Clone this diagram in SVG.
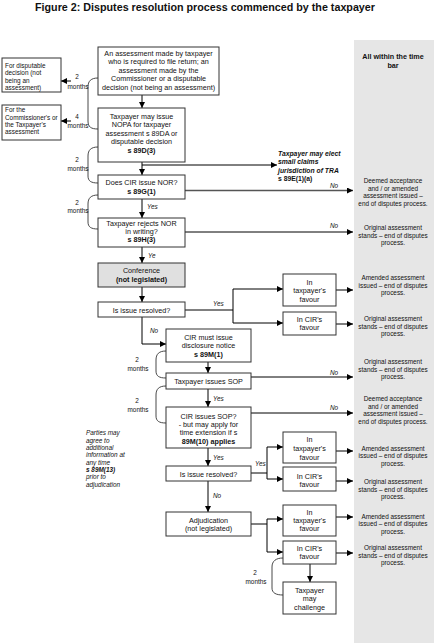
<svg xmlns="http://www.w3.org/2000/svg" width="434" height="644" viewBox="0 0 434 644">
<defs>
<marker id="ah" markerUnits="userSpaceOnUse" markerWidth="6" markerHeight="6" refX="6" refY="3" orient="auto"><path d="M0,0 L6,3 L0,6 z" fill="#000"/></marker>
<marker id="ahg" markerUnits="userSpaceOnUse" markerWidth="6" markerHeight="6" refX="6" refY="3" orient="auto"><path d="M0,0 L6,3 L0,6 z" fill="#000"/></marker>
</defs>
<style>
text{font-family:"Liberation Sans",Arial,sans-serif;fill:#111}
.b{fill:#fff;stroke:#333;stroke-width:1}
.g{fill:#e0e0e0;stroke:#333;stroke-width:1}
.t{font-size:7.2px;text-anchor:middle}
.s{font-size:6.4px;text-anchor:middle}
.l{font-size:6.4px}
.i{font-size:6.4px;font-style:italic}
.bd{font-weight:bold}
.c{fill:none;stroke:#000;stroke-width:1}
.a{fill:none;stroke:#000;stroke-width:1;marker-end:url(#ah)}
.ag{fill:none;stroke:#555;stroke-width:1.7;marker-end:url(#ahg)}
.br{fill:none;stroke:#333;stroke-width:0.9}
</style>
<rect width="434" height="644" fill="#fff"/>
<text x="205" y="10.5" font-size="11.5" font-weight="bold" text-anchor="middle" textLength="340" lengthAdjust="spacingAndGlyphs">Figure 2: Disputes resolution process commenced by the taxpayer</text>

<g id="timebar">
<rect x="354" y="40" width="80" height="603" fill="#e6e6e6"/>
<text class="t bd" x="393" y="59">All within the time</text>
<text class="t bd" x="393" y="67.5">bar</text>
</g>

<g id="connectors">
<path class="a" d="M142,95 V108"/>
<path class="a" d="M142,162 V175"/>
<path class="a" d="M142,165 H277"/>
<path class="ag" d="M185,190.5 H353"/>
<path class="a" d="M142,199 V218"/>
<path class="a" d="M185,232 H353"/>
<path class="a" d="M142,247 V263"/>
<path class="a" d="M142,287 V302"/>
<path class="c" d="M185,310 H233 M233,289 V323"/>
<path class="a" d="M233,289 H283"/>
<path class="a" d="M233,323 H283"/>
<path class="a" d="M336,290 H353"/>
<path class="a" d="M336,324 H353"/>
<path class="a" d="M142,317 V344 H166"/>
<path class="a" d="M208,362 V373"/>
<path class="a" d="M251,377 H353"/>
<path class="a" d="M208,389 V407"/>
<path class="a" d="M251,413 H353"/>
<path class="a" d="M208,448 V466"/>
<path class="c" d="M251,473 H267 M267,447 V479"/>
<path class="a" d="M267,447 H283"/>
<path class="a" d="M267,479 H283"/>
<path class="a" d="M336,451 H353"/>
<path class="a" d="M336,481 H353"/>
<path class="a" d="M208,481 V512"/>
<path class="c" d="M251,524 H267 M267,519 V552"/>
<path class="a" d="M267,519 H283"/>
<path class="a" d="M267,552 H283"/>
<path class="a" d="M336,517 H353"/>
<path class="a" d="M336,553 H353"/>
<path class="a" d="M310,564 V582"/>
<path class="a" d="M71,81 H61"/>
<path class="a" d="M71,121 H61"/>
<path class="br" d="M98,78 C91,78 88,81 88,87 V121 C88,127 91,129 98,129"/>
<path class="br" d="M98,147 C91,147 88,150 88,156 V176 C88,181 91,183 98,183"/>
<path class="br" d="M98,195 C91,195 88,198 88,204 V222 C88,227 91,229 98,229"/>
<path class="br" d="M166,351 C159,351 156,354 156,360 V371 C156,376 159,378 166,378"/>
<path class="br" d="M166,386 C159,386 156,389 156,395 V416 C156,421 159,423 166,423"/>
<path class="br" d="M283,558 C276,558 272,561 272,567 V588 C272,593 276,595 283,595"/>
<text class="s" x="77" y="79">2</text><text class="s" x="78" y="89">months</text>
<text class="s" x="77" y="119">4</text><text class="s" x="78" y="128">months</text>
<text class="s" x="77" y="162">2</text><text class="s" x="78" y="170.5">months</text>
<text class="s" x="77" y="204.5">2</text><text class="s" x="78" y="213">months</text>
<text class="s" x="137" y="362">2</text><text class="s" x="138" y="370.5">months</text>
<text class="s" x="137" y="402.5">2</text><text class="s" x="138" y="411.5">months</text>
<text class="s" x="255" y="575">2</text><text class="s" x="256" y="584">months</text>
<text class="i" x="330" y="188">No</text>
<text class="i" x="330" y="227.5">No</text>
<text class="i" x="330" y="374.5">No</text>
<text class="i" x="330" y="410">No</text>
<text class="i" x="147" y="209">Yes</text>
<text class="i" x="148" y="257.5">Ye</text>
<text class="i" x="213" y="306">Yes</text>
<text class="i" x="150" y="333">No</text>
<text class="i" x="213" y="401">Yes</text>
<text class="i" x="213" y="459.5">Yes</text>
<text class="i" x="255" y="466">Yes</text>
<text class="i" x="213" y="497.5">No</text>
</g>

<g id="n-start">
<rect class="b" x="98" y="47" width="121" height="48"/>
<text class="t" x="158.5" y="55.5">An assessment made by taxpayer</text>
<text class="t" x="158.5" y="64">who is required to file return; an</text>
<text class="t" x="158.5" y="72.5">assessment made by the</text>
<text class="t" x="158.5" y="81">Commissioner or a disputable</text>
<text class="t" x="158.5" y="89.5">decision (not being an assessment)</text>
</g>

<g id="n-disputable">
<rect class="b" x="2" y="58" width="59" height="34"/>
<text class="l" x="5" y="68">For disputable</text>
<text class="l" x="5" y="75.3">decision (not</text>
<text class="l" x="5" y="82.6">being an</text>
<text class="l" x="5" y="89.9">assessment)</text>
</g>

<g id="n-commissioner">
<rect class="b" x="2" y="105" width="59" height="35"/>
<text class="l" x="5" y="112.3">For the</text>
<text class="l" x="5" y="119.6">Commissioner's or</text>
<text class="l" x="5" y="127">the Taxpayer's</text>
<text class="l" x="5" y="134.3">assessment</text>
</g>

<g id="n-nopa">
<rect class="b" x="98" y="108" width="87" height="54"/>
<text class="t" x="141.5" y="118.5">Taxpayer may issue</text>
<text class="t" x="141.5" y="127">NOPA for taxpayer</text>
<text class="t" x="141.5" y="135.5">assessment s 89DA or</text>
<text class="t" x="141.5" y="144">disputable decision</text>
<text class="t bd" x="141.5" y="152.5">s 89D(3)</text>
</g>

<g id="n-smallclaims">
<text x="278" y="155.5" font-size="6.8" font-style="italic" font-weight="bold">Taxpayer may elect</text>
<text x="278" y="164" font-size="6.8" font-style="italic" font-weight="bold">small claims</text>
<text x="278" y="172.5" font-size="6.8" font-style="italic" font-weight="bold">jurisdiction of TRA</text>
<text x="278" y="181" font-size="6.8" font-weight="bold">s 89E(1)(a)</text>
</g>

<g id="n-nor">
<rect class="b" x="98" y="175" width="87" height="24"/>
<text class="t" x="141.5" y="184.5">Does CIR issue NOR?</text>
<text class="t bd" x="141.5" y="193.5">s 89G(1)</text>
</g>

<g id="n-reject">
<rect class="b" x="98" y="218" width="87" height="29"/>
<text class="t" x="141.5" y="225.5">Taxpayer rejects NOR</text>
<text class="t" x="141.5" y="233.5">in writing?</text>
<text class="t bd" x="141.5" y="241.5">s 89H(3)</text>
</g>

<g id="n-conference">
<rect class="g" x="98" y="263" width="87" height="24"/>
<text class="t" x="141.5" y="273">Conference</text>
<text class="t bd" x="141.5" y="281.5">(not legislated)</text>
</g>

<g id="n-resolved1">
<rect class="b" x="98" y="302" width="87" height="15"/>
<text class="t" x="141.5" y="312.5">Is issue resolved?</text>
</g>

<g id="n-tf1">
<rect class="b" x="283" y="274" width="53" height="32"/>
<text class="t" x="309.5" y="284.5">In</text>
<text class="t" x="309.5" y="293">taxpayer's</text>
<text class="t" x="309.5" y="301.5">favour</text>
</g>

<g id="n-cf1">
<rect class="b" x="283" y="312" width="53" height="23"/>
<text class="t" x="309.5" y="321.5">In CIR's</text>
<text class="t" x="309.5" y="330">favour</text>
</g>

<g id="n-disclosure">
<rect class="b" x="166" y="329" width="85" height="33"/>
<text class="t" x="208.5" y="339.5">CIR must issue</text>
<text class="t" x="208.5" y="348">disclosure notice</text>
<text class="t bd" x="208.5" y="356.5">s 89M(1)</text>
</g>

<g id="n-tsop">
<rect class="b" x="166" y="373" width="85" height="16"/>
<text class="t" x="208.5" y="384">Taxpayer issues SOP</text>
</g>

<g id="n-csop">
<rect class="b" x="166" y="407" width="85" height="41"/>
<text class="t" x="208.5" y="418.5">CIR issues SOP?</text>
<text class="t" x="208.5" y="426.5">- but may apply for</text>
<text class="t" x="208.5" y="435">time extension if s</text>
<text class="t bd" x="208.5" y="443.5">89M(10) applies</text>
</g>

<g id="n-parties">
<text class="i" x="86" y="435">Parties may</text>
<text class="i" x="86" y="442.5">agree to</text>
<text class="i" x="86" y="449.8">additional</text>
<text class="i" x="86" y="457.2">information at</text>
<text class="i" x="86" y="464.6">any time</text>
<text class="i bd" x="86" y="472">s 89M(13)</text>
<text class="i" x="86" y="479.4">prior to</text>
<text class="i" x="86" y="486.8">adjudication</text>
</g>

<g id="n-resolved2">
<rect class="b" x="166" y="466" width="85" height="15"/>
<text class="t" x="208.5" y="476.5">Is issue resolved?</text>
</g>

<g id="n-tf2">
<rect class="b" x="283" y="432" width="53" height="31"/>
<text class="t" x="309.5" y="441.5">In</text>
<text class="t" x="309.5" y="450.5">taxpayer's</text>
<text class="t" x="309.5" y="459.5">favour</text>
</g>

<g id="n-cf2">
<rect class="b" x="283" y="467" width="53" height="24"/>
<text class="t" x="309.5" y="478.5">In CIR's</text>
<text class="t" x="309.5" y="486.5">favour</text>
</g>

<g id="n-adjudication">
<rect class="b" x="166" y="512" width="85" height="24"/>
<text class="t" x="208.5" y="522.5">Adjudication</text>
<text class="t" x="208.5" y="530.5">(not legislated)</text>
</g>

<g id="n-tf3">
<rect class="b" x="283" y="505" width="53" height="31"/>
<text class="t" x="309.5" y="514.5">In</text>
<text class="t" x="309.5" y="522.5">taxpayer's</text>
<text class="t" x="309.5" y="530.5">favour</text>
</g>

<g id="n-cf3">
<rect class="b" x="283" y="541" width="53" height="23"/>
<text class="t" x="309.5" y="550.5">In CIR's</text>
<text class="t" x="309.5" y="559">favour</text>
</g>

<g id="n-challenge">
<rect class="b" x="283" y="582" width="53" height="32"/>
<text class="t" x="309.5" y="592.5">Taxpayer</text>
<text class="t" x="309.5" y="600.5">may</text>
<text class="t" x="309.5" y="609.5">challenge</text>
</g>

<g id="outcomes">
<text class="s" x="393" y="183.2">Deemed acceptance</text>
<text class="s" x="393" y="190.6">and / or amended</text>
<text class="s" x="393" y="198.2">assessment issued –</text>
<text class="s" x="393" y="205.6">end of disputes process.</text>
<text class="s" x="393" y="230">Original assessment</text>
<text class="s" x="393" y="237.5">stands – end of disputes</text>
<text class="s" x="393" y="245">process.</text>
<text class="s" x="393" y="280">Amended assessment</text>
<text class="s" x="393" y="287.5">issued – end of disputes</text>
<text class="s" x="393" y="295">process.</text>
<text class="s" x="393" y="321">Original assessment</text>
<text class="s" x="393" y="328.5">stands – end of disputes</text>
<text class="s" x="393" y="336">process.</text>
<text class="s" x="393" y="364">Original assessment</text>
<text class="s" x="393" y="371.5">stands – end of disputes</text>
<text class="s" x="393" y="379">process.</text>
<text class="s" x="393" y="401">Deemed acceptance</text>
<text class="s" x="393" y="408.5">and / or amended</text>
<text class="s" x="393" y="416">assessment issued –</text>
<text class="s" x="393" y="423.5">end of disputes process.</text>
<text class="s" x="393" y="450.5">Amended assessment</text>
<text class="s" x="393" y="458">issued – end of disputes</text>
<text class="s" x="393" y="465.5">process.</text>
<text class="s" x="393" y="484">Original assessment</text>
<text class="s" x="393" y="491.5">stands – end of disputes</text>
<text class="s" x="393" y="499">process.</text>
<text class="s" x="393" y="518.5">Amended assessment</text>
<text class="s" x="393" y="526">issued – end of disputes</text>
<text class="s" x="393" y="533.5">process.</text>
<text class="s" x="393" y="550">Original assessment</text>
<text class="s" x="393" y="557.5">stands – end of disputes</text>
<text class="s" x="393" y="565">process.</text>
</g>
</svg>
